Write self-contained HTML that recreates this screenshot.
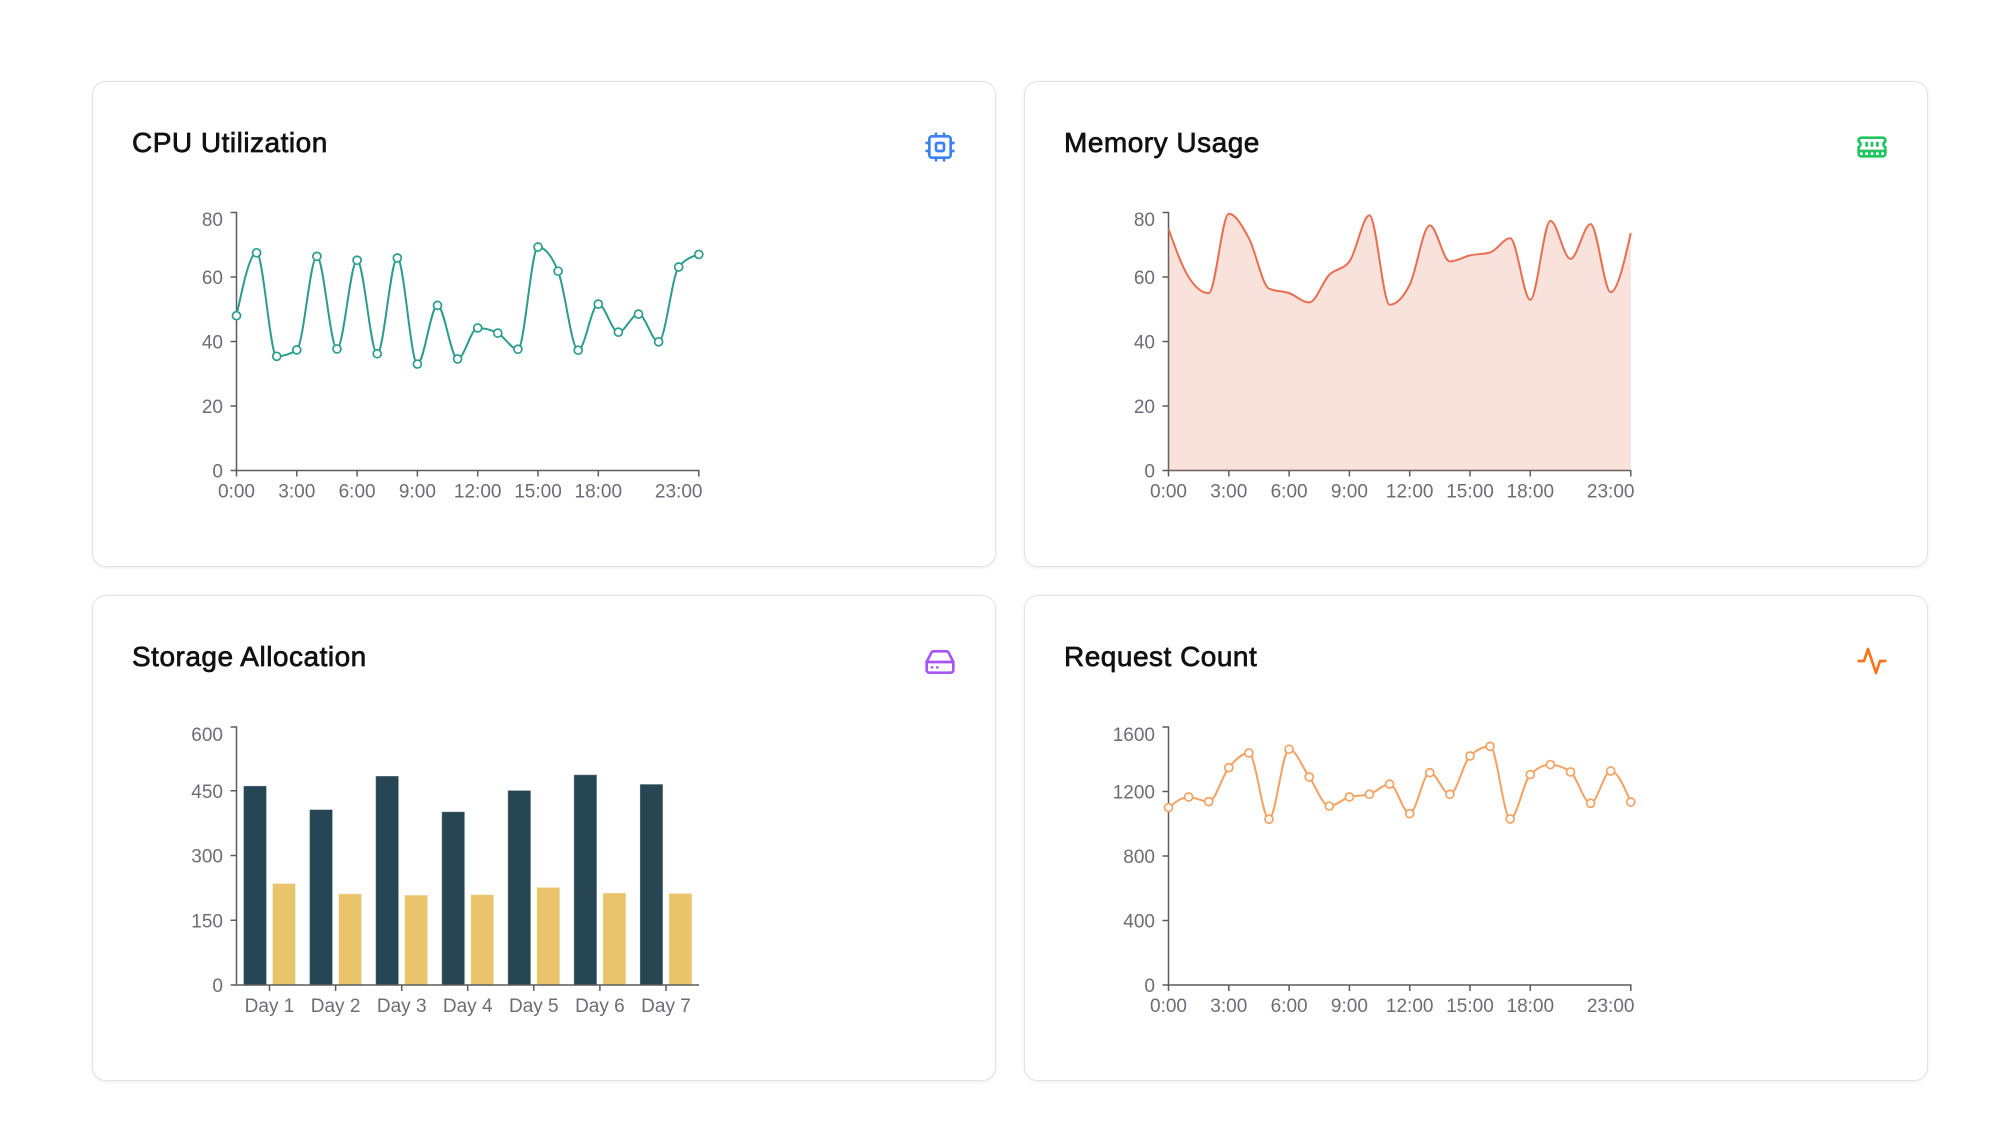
<!DOCTYPE html>
<html><head><meta charset="utf-8">
<style>
html,body{margin:0;padding:0;background:#fff;width:2000px;height:1136px;overflow:hidden;}
.card{position:absolute;width:902px;height:484px;border:1px solid #e2e2e5;border-radius:14px;background:#fff;box-shadow:0 1px 4px rgba(0,0,0,0.07);}
svg{position:absolute;left:0;top:0;}
.t{font-family:"Liberation Sans",sans-serif;font-size:28px;font-weight:normal;fill:#111;stroke:#111;stroke-width:0.7px;letter-spacing:0.5px;}
.tk{font-family:"Liberation Sans",sans-serif;font-size:19px;fill:#6c6c77;}
</style></head>
<body>
<div class="card" style="left:92px;top:81px"></div>
<div class="card" style="left:1024px;top:81px"></div>
<div class="card" style="left:92px;top:595px"></div>
<div class="card" style="left:1024px;top:595px"></div>

<svg id="s" width="2000" height="1136" viewBox="0 0 2000 1136">
  <!-- Titles -->
  <text class="t" x="132" y="152">CPU Utilization</text>
  <text class="t" x="1064" y="152">Memory Usage</text>
  <text class="t" x="132" y="666">Storage Allocation</text>
  <text class="t" x="1064" y="666">Request Count</text>

  <!-- Icons -->
  <g transform="translate(924,131) scale(1.3333)" fill="none" stroke="#3b82f6" stroke-width="2" stroke-linecap="round" stroke-linejoin="round">
    <rect x="4" y="4" width="16" height="16" rx="2"/><rect x="9" y="9" width="6" height="6" rx="1"/>
    <path d="M15 2v2M15 20v2M2 15h2M2 9h2M20 15h2M20 9h2M9 2v2M9 20v2"/>
  </g>
  <g transform="translate(1856,131) scale(1.3333)" fill="none" stroke="#22c55e" stroke-width="2" stroke-linecap="round" stroke-linejoin="round">
    <path d="M6 19v-3M10 19v-3M14 19v-3M18 19v-3M8 11V9M16 11V9M12 11V9M2 15h20"/>
    <path d="M2 7a2 2 0 0 1 2-2h16a2 2 0 0 1 2 2v1.1a2 2 0 0 0 0 3.837V17a2 2 0 0 1-2 2H4a2 2 0 0 1-2-2v-5.1a2 2 0 0 0 0-3.837Z"/>
  </g>
  <g transform="translate(924,646) scale(1.3333)" fill="none" stroke="#a855f7" stroke-width="2" stroke-linecap="round" stroke-linejoin="round">
    <line x1="22" y1="12" x2="2" y2="12"/>
    <path d="M5.45 5.11 2 12v6a2 2 0 0 0 2 2h16a2 2 0 0 0 2-2v-6l-3.45-6.89A2 2 0 0 0 16.76 4H7.24a2 2 0 0 0-1.79 1.11z"/>
    <line x1="6" y1="16" x2="6.01" y2="16"/><line x1="10" y1="16" x2="10.01" y2="16"/>
  </g>
  <g transform="translate(1856,645) scale(1.3333)" fill="none" stroke="#f97316" stroke-width="2" stroke-linecap="round" stroke-linejoin="round">
    <path d="M22 12h-4l-3 9L9 3l-3 9H2"/>
  </g>

  <!-- Axes -->
  <g fill="none" stroke="#5c5c5c" stroke-width="1.5">
    <!-- CPU -->
    <path d="M230.5,212.5H236.5V470.5H230.5"/>
    <path d="M230.5,406H236.5M230.5,341.5H236.5M230.5,277H236.5"/>
    <path d="M236.5,476.5V470.5H698.8V476.5"/>
    <path d="M296.8,470.5v6M357.1,470.5v6M417.4,470.5v6M477.7,470.5v6M538,470.5v6M598.3,470.5v6"/>
    <!-- Memory -->
    <path d="M1162.5,212.5H1168.5V470.5H1162.5"/>
    <path d="M1162.5,406H1168.5M1162.5,341.5H1168.5M1162.5,277H1168.5"/>
    <path d="M1168.5,476.5V470.5H1630.8V476.5"/>
    <path d="M1228.8,470.5v6M1289.1,470.5v6M1349.4,470.5v6M1409.7,470.5v6M1470,470.5v6M1530.3,470.5v6"/>
    <!-- Request -->
    <path d="M1162.5,727H1168.5V985H1162.5"/>
    <path d="M1162.5,920.5H1168.5M1162.5,856H1168.5M1162.5,791.5H1168.5"/>
    <path d="M1168.5,991V985H1630.8V991"/>
    <path d="M1228.8,985v6M1289.1,985v6M1349.4,985v6M1409.7,985v6M1470,985v6M1530.3,985v6"/>
  </g>

  <!-- Memory area + line -->
  <path id="memArea" fill="#e76f51" fill-opacity="0.2" stroke="none" d=""/>
  <path id="memLine" fill="none" stroke="#e76f51" stroke-width="2" d=""/>

  <!-- Bars -->
  <g id="bars"></g>
  <g fill="none" stroke="#5c5c5c" stroke-width="1.5">
    <path d="M230.5,727H236.5V985H230.5"/>
    <path d="M230.5,920.3H236.5M230.5,855.5H236.5M230.5,790.8H236.5"/>
    <path d="M236.5,985H699"/>
    <path d="M269.5,985v6M335.6,985v6M401.7,985v6M467.7,985v6M533.8,985v6M599.9,985v6M666,985v6"/>
  </g>

  <!-- Lines -->
  <path id="cpuLine" fill="none" stroke="#2a9d8f" stroke-width="2" d=""/>
  <g id="cpuDots" fill="#fff" stroke="#2a9d8f" stroke-width="1.7"></g>
  <path id="reqLine" fill="none" stroke="#f4a261" stroke-width="2" d=""/>
  <g id="reqDots" fill="#fff" stroke="#f4a261" stroke-width="1.7"></g>

  <!-- Tick labels -->
  <g class="tk" text-anchor="end">
    <text x="223" y="226">80</text><text x="223" y="284">60</text><text x="223" y="348.5">40</text><text x="223" y="413">20</text><text x="223" y="477.5">0</text>
    <text x="1155" y="226">80</text><text x="1155" y="284">60</text><text x="1155" y="348.5">40</text><text x="1155" y="413">20</text><text x="1155" y="477.5">0</text>
    <text x="223" y="741">600</text><text x="223" y="798">450</text><text x="223" y="862.5">300</text><text x="223" y="927.3">150</text><text x="223" y="992">0</text>
    <text x="1155" y="741">1600</text><text x="1155" y="798.5">1200</text><text x="1155" y="863">800</text><text x="1155" y="927.5">400</text><text x="1155" y="992">0</text>
  </g>
  <g class="tk" text-anchor="middle">
    <text x="236.5" y="497.5">0:00</text><text x="296.8" y="497.5">3:00</text><text x="357.1" y="497.5">6:00</text><text x="417.4" y="497.5">9:00</text><text x="477.7" y="497.5">12:00</text><text x="538" y="497.5">15:00</text><text x="598.3" y="497.5">18:00</text><text x="678.7" y="497.5">23:00</text>
    <text x="1168.5" y="497.5">0:00</text><text x="1228.8" y="497.5">3:00</text><text x="1289.1" y="497.5">6:00</text><text x="1349.4" y="497.5">9:00</text><text x="1409.7" y="497.5">12:00</text><text x="1470" y="497.5">15:00</text><text x="1530.3" y="497.5">18:00</text><text x="1610.7" y="497.5">23:00</text>
    <text x="1168.5" y="1012">0:00</text><text x="1228.8" y="1012">3:00</text><text x="1289.1" y="1012">6:00</text><text x="1349.4" y="1012">9:00</text><text x="1409.7" y="1012">12:00</text><text x="1470" y="1012">15:00</text><text x="1530.3" y="1012">18:00</text><text x="1610.7" y="1012">23:00</text>
    <text x="269.5" y="1012">Day 1</text><text x="335.6" y="1012">Day 2</text><text x="401.7" y="1012">Day 3</text><text x="467.7" y="1012">Day 4</text><text x="533.8" y="1012">Day 5</text><text x="599.9" y="1012">Day 6</text><text x="666" y="1012">Day 7</text>
  </g>
</svg>

<script>
(function(){
  var NS='http://www.w3.org/2000/svg';
  var cpu=[48,67.5,35.4,37.4,66.4,37.7,65.2,36.2,65.9,33,51.2,34.6,44.2,42.6,37.6,69.3,61.8,37.3,51.6,42.9,48.5,39.9,63.1,67];
  var mem=[74.9,60,55,79.6,72,56.4,55,52.1,60.7,64.8,79.1,51.4,57.6,76,64.8,66.7,67.6,72,52.9,77.4,65.6,76.4,55.3,73.6];
  var req=[1100,1166,1137,1348,1439,1028,1462,1290,1109,1166,1183,1246,1063,1317,1183,1420,1480,1030,1305,1367,1321,1127,1327,1135];
  var step=462.3/23;
  function pts(data,ox,bottom,k){return data.map(function(v,i){return [ox+i*step,bottom-v*k];});}
  function sign(x){return x<0?-1:1;}
  function mono(p){
    var n=p.length,m=new Array(n),i;
    for(i=1;i<n-1;i++){
      var h0=p[i][0]-p[i-1][0],h1=p[i+1][0]-p[i][0];
      var s0=(p[i][1]-p[i-1][1])/h0,s1=(p[i+1][1]-p[i][1])/h1;
      var pp=(s0*h1+s1*h0)/(h0+h1);
      m[i]=(sign(s0)+sign(s1))*Math.min(Math.abs(s0),Math.abs(s1),0.5*Math.abs(pp))||0;
    }
    var sA=(p[1][1]-p[0][1])/(p[1][0]-p[0][0]);
    m[0]=(3*sA-m[1])/2;
    var sB=(p[n-1][1]-p[n-2][1])/(p[n-1][0]-p[n-2][0]);
    m[n-1]=(3*sB-m[n-2])/2;
    var d='M'+p[0][0].toFixed(2)+','+p[0][1].toFixed(2);
    for(i=0;i<n-1;i++){
      var dx=(p[i+1][0]-p[i][0])/3;
      d+='C'+(p[i][0]+dx).toFixed(2)+','+(p[i][1]+dx*m[i]).toFixed(2)+' '+(p[i+1][0]-dx).toFixed(2)+','+(p[i+1][1]-dx*m[i+1]).toFixed(2)+' '+p[i+1][0].toFixed(2)+','+p[i+1][1].toFixed(2);
    }
    return d;
  }
  function dots(id,p){
    var g=document.getElementById(id);
    p.forEach(function(q){var c=document.createElementNS(NS,'circle');c.setAttribute('cx',q[0]);c.setAttribute('cy',q[1]);c.setAttribute('r',4);g.appendChild(c);});
  }
  var pc=pts(cpu,236.5,470.5,258/80);
  document.getElementById('cpuLine').setAttribute('d',mono(pc));
  dots('cpuDots',pc);
  var pm=pts(mem,1168.5,470.5,258/80);
  var dm=mono(pm);
  document.getElementById('memLine').setAttribute('d',dm);
  document.getElementById('memArea').setAttribute('d',dm+'L'+pm[23][0].toFixed(2)+',470.5L1168.5,470.5Z');
  var pr=pts(req,1168.5,985,258/1600);
  document.getElementById('reqLine').setAttribute('d',mono(pr));
  dots('reqDots',pr);
  var dark=[463,408,486,403,452.5,489,467],yel=[236,212,209,210,227,214,213];
  var bg=document.getElementById('bars');
  for(var i=0;i<7;i++){
    var c=269.5+i*66.07;
    [[c-26,dark[i],'#264653'],[c+3,yel[i],'#e9c46a']].forEach(function(b){
      var h=b[1]*258/600;
      var r=document.createElementNS(NS,'rect');
      r.setAttribute('x',b[0].toFixed(2));r.setAttribute('y',(985-h).toFixed(2));
      r.setAttribute('width',23);r.setAttribute('height',h.toFixed(2));
      r.setAttribute('fill',b[2]);r.setAttribute('stroke','rgba(255,255,255,0.35)');r.setAttribute('stroke-width','1');
      bg.appendChild(r);
    });
  }
})();
</script>
</body></html>
